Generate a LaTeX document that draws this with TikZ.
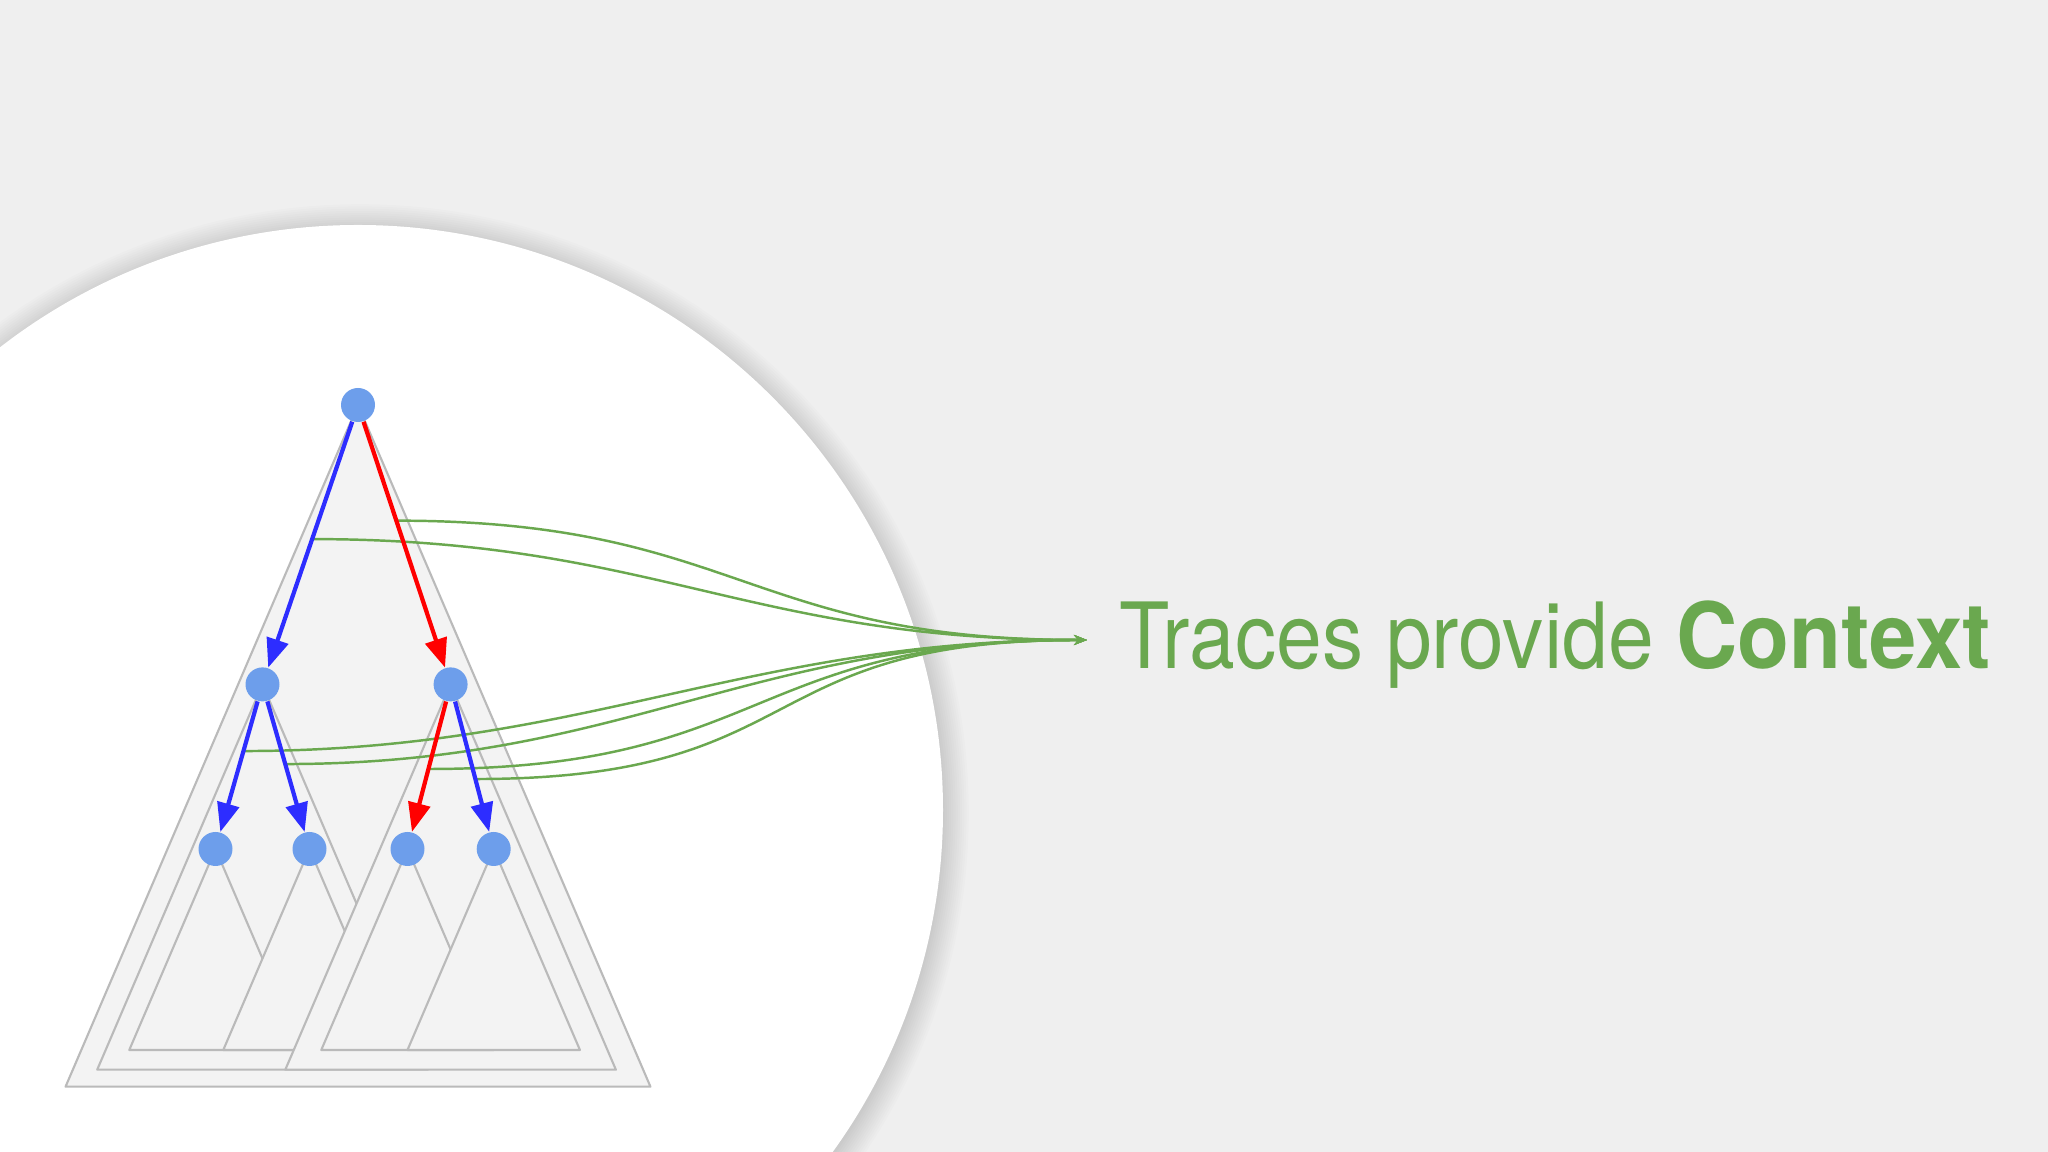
\documentclass[tikz,border=0pt]{standalone}
\usepackage{fontspec}
\setmainfont[FakeStretch=0.9, BoldFeatures={FakeStretch=0.93}]{TeX Gyre Heros}
\usetikzlibrary{calc,arrows.meta}
\definecolor{slidebg}{RGB}{239,239,239}
\definecolor{trifill}{RGB}{243,243,243}
\definecolor{trigray}{RGB}{186,186,186}
\definecolor{nodeblue}{RGB}{109,158,235}
\definecolor{callblue}{RGB}{45,45,255}
\definecolor{callred}{RGB}{255,0,0}
\definecolor{ctxgreen}{RGB}{106,168,79}
\pgfdeclarelayer{back}
\pgfdeclarelayer{tris}
\pgfsetlayers{back,tris,main}
\tikzset{
	tri/.style={draw=trigray, fill=trifill, line width=0.6pt, line join=round},
	span/.style={circle, fill=nodeblue, inner sep=0pt, minimum size=0.34cm},
	blueedge/.style={draw=callblue, line width=1.2pt, -{Triangle[length=0.29cm,width=0.22cm]}},
	rededge/.style={draw=callred, line width=1.2pt, -{Triangle[length=0.29cm,width=0.22cm]}},
	ctxline/.style={draw=ctxgreen, line width=0.7pt, -{Stealth[length=0.13cm,width=0.1cm]}}
}
\def\subtri(#1)(#2){\draw[tri] (#1.center) -- ++({-0.429*#2},{-#2}) -- ++({0.858*#2},0) -- cycle;}

\begin{document}
\begin{tikzpicture}
		%%%%% START %%%%%
		\useasboundingbox (0,0) rectangle (20.48,11.52);
		
		\begin{pgfonlayer}{back}
			\clip (0,0) rectangle (20.48,11.52);
			\fill[slidebg] (0,0) rectangle (20.48,11.52);
			\foreach \i in {1,...,12}
				\fill[black, opacity=0.011] (3.6,3.39) circle ({5.85+0.26-\i*0.022});
			\fill[white] (3.58,3.42) circle (5.85);
		\end{pgfonlayer}
		
		\node[span] (root) at (3.58, 7.47) {};
		\node[span] (l) at (2.625, 4.676) {};
		\node[span] (r) at (4.506, 4.676) {};
		\node[span] (ll) at (2.155, 3.03) {};
		\node[span] (lr) at (3.095, 3.03) {};
		\node[span] (rl) at (4.075, 3.03) {};
		\node[span] (rr) at (4.937, 3.03) {};
		
		\begin{pgfonlayer}{tris}
			\subtri(root)(6.817)
			\subtri(l)(3.853)
			\subtri(ll)(2.01)
			\subtri(lr)(2.01)
			\subtri(r)(3.853)
			\subtri(rl)(2.01)
			\subtri(rr)(2.01)
		\end{pgfonlayer}
		
		\coordinate (ctx) at (10.87, 5.12);
		\coordinate (c1) at ($(root)!0.414!(r)$);
		\coordinate (c2) at ($(root)!0.48!(l)$);
		\coordinate (c3) at ($(l)!0.405!(ll)$);
		\coordinate (c4) at ($(l)!0.484!(lr)$);
		\coordinate (c5) at ($(r)!0.514!(rl)$);
		\coordinate (c6) at ($(r)!0.575!(rr)$);
		
		\foreach \c in {c1,c2,c3,c4,c5,c6}
			\draw[ctxline] (\c) .. controls +(3.4,0) and +(-3.4,0) .. (ctx);
		
		\draw[blueedge] (root) -- (l);
		\draw[rededge] (root) -- (r);
		\draw[blueedge] (l) -- (ll);
		\draw[blueedge] (l) -- (lr);
		\draw[rededge] (r) -- (rl);
		\draw[blueedge] (r) -- (rr);
		
		\node[anchor=base west, inner sep=0pt, text=ctxgreen, font=\fontsize{26}{30}\selectfont] (title) at (11.19, 4.833) {Traces provide \textbf{Context}};
		
		%%%%% END %%%%%
	\end{tikzpicture}
\end{document}
